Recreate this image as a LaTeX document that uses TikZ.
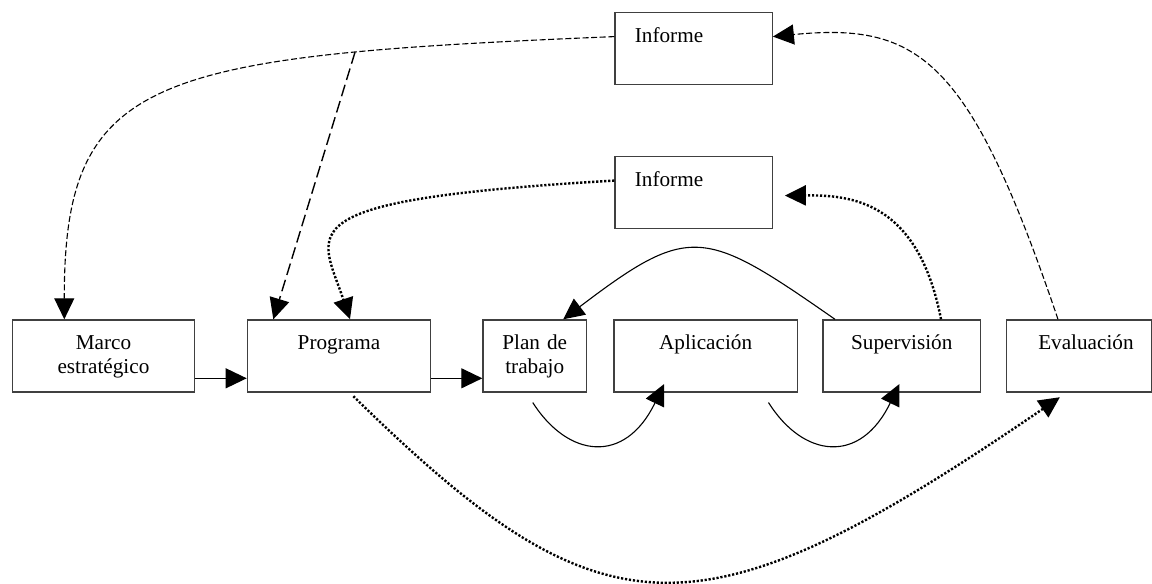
\documentclass[tikz,border=0pt]{standalone}
\usepackage{fontspec}
\setmainfont{Liberation Serif}
\usetikzlibrary{arrows.meta,positioning}

\begin{document}
\begin{tikzpicture}[x=0.5pt, y=-0.5pt, >={Triangle[length=10.5pt,width=10pt]},
   caja/.style={draw=black!75, line width=0.6pt, inner xsep=0pt, inner ysep=0pt,
     anchor=north west, align=center, text height=15pt, text depth=21pt,
     font=\fontsize{10.6}{12}\selectfont},
   informe/.style={caja, align=left, inner xsep=10pt, text width=58.7pt},
   flecha/.style={->, line width=0.55pt},
   rayas/.style={->, line width=0.55pt, dash pattern=on 3pt off 1.3pt},
   rayasgruesas/.style={->, line width=0.7pt, dash pattern=on 6pt off 2.5pt},
   puntos/.style={->, line width=1.2pt, dash pattern=on 1.1pt off 0.9pt}
   ]
   \useasboundingbox (0,0) rectangle (1152,584);

   \node[informe] (inf1) at (614.3,11.7) {Informe};
   \node[informe] (inf2) at (614.3,155.5) {Informe};

   \node[caja, text width=91.15pt] (marco) at (11.7,319.3) {Marco\\estratégico};
   \node[caja, text width=91.65pt] (prog) at (246.7,319.3) {Programa};
   \node[caja, text width=51.85pt] (plan) at (482.3,319.3) {Plan de\\trabajo};
   \node[caja, text width=91.7pt] (apl) at (613.3,319.3) {Aplicación};
   \node[caja, text width=78.85pt] (sup) at (822.3,319.3) {Supervisión};
   \node[caja, align=right, inner xsep=9pt, text width=54.5pt] (eval) at (1006,319.3) {Evaluación};

   \draw[flecha] ([yshift=-11.2pt]marco.east) -- ([yshift=-11.2pt]prog.west);
   \draw[flecha] ([yshift=-11.2pt]prog.east) -- ([yshift=-11.2pt]plan.west);

   \draw[flecha] ([xshift=6.35pt]sup.north west) .. controls (704,228) and (690,223) .. ([xshift=-12pt]plan.north east);
   \draw[flecha] ([xshift=-1pt,yshift=-5pt]plan.south) .. controls (568,458) and (625,465) .. ([xshift=25.35pt,yshift=4.2pt]apl.south west);
   \draw[flecha] ([xshift=-14.7pt,yshift=-5pt]apl.south east) .. controls (803.3,458) and (860.3,465) .. ([xshift=38.5pt,yshift=4.2pt]sup.south west);

   % informes
   \draw[rayas] ([yshift=5.85pt]inf1.west) .. controls (150,56) and (64,75) .. ([xshift=26.3pt]marco.north west)
     coordinate[pos=0.225] (cruce);
   \draw[rayasgruesas] (cruce) -- ([xshift=13.3pt]prog.north west);
   \draw[puntos] ([yshift=5.75pt]inf2.west) .. controls (280,200) and (320,230) .. ([xshift=51.65pt]prog.north west);
   \draw[puntos] ([xshift=59.35pt]sup.north west) .. controls (918,200) and (850,195) .. ([xshift=6pt,yshift=-1.75pt]inf2.east);
   \draw[rayas] ([xshift=26pt]eval.north west) .. controls (970,60) and (920,22) .. ([yshift=5.85pt]inf1.east);

   \draw[puntos] ([xshift=7.2pt,yshift=-1.85pt]prog.south) .. controls (603.5,641.8) and (699.2,643.9) .. ([xshift=-9.6pt,yshift=-2.35pt]eval.south);
\end{tikzpicture}
\end{document}
